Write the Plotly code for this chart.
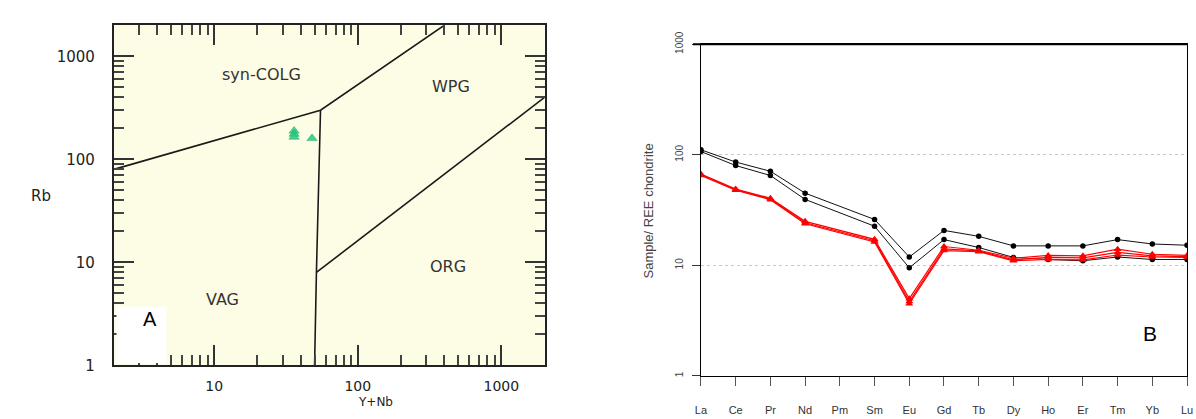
import math
import plotly.graph_objects as go

# ---------------- Panel A data (Pearce et al. Rb vs Y+Nb) ----------------
colg_x = [2, 55, 400]
colg_y = [80, 300, 2000]
vag_x = [50, 51.5, 55]
vag_y = [1, 8, 300]
org_x = [51.5, 2000]
org_y = [8, 400]
sample_ynb = [36, 36, 36, 48]
sample_rb = [189, 176, 165, 160]
xa_ticks = [10, 100, 1000]
ya_ticks = [1, 10, 100, 1000]

# ---------------- Panel B data (REE chondrite normalised) ----------------
ree = ["La", "Ce", "Pr", "Nd", "Pm", "Sm", "Eu", "Gd", "Tb", "Dy", "Ho", "Er", "Tm", "Yb", "Lu"]
black1 = [111, 86, 71, 45, None, 26, 11.9, 20.7, 18.3, 15.0, 15.0, 15.0, 17.1, 15.6, 15.2]
black2 = [107, 80, 65, 39.5, None, 22.6, 9.5, 17.1, 14.5, 11.8, 11.3, 11.0, 11.9, 11.3, 11.3]
red1 = [67, 49, 40.5, 25, None, 17.2, 5.0, 14.8, 13.7, 11.6, 12.3, 12.2, 14.0, 12.6, 12.3]
red2 = [66, 48.3, 40, 24.3, None, 16.7, 4.7, 14.1, 13.5, 11.2, 11.8, 11.7, 13.1, 12.2, 12.0]
red3 = [65, 47.8, 39.3, 23.8, None, 16.3, 4.5, 13.6, 13.3, 11.0, 11.3, 11.2, 12.4, 11.9, 11.8]
yb_ticks = [1, 10, 100, 1000]

W, H = 1196, 419


def px(x, y):
    return x / W, 1 - y / H


fig = go.Figure()

line_style = dict(color="#1a1a1a", width=1.6)
fig.add_trace(go.Scatter(x=colg_x, y=colg_y, mode="lines", line=line_style, xaxis="x", yaxis="y", hoverinfo="skip"))
fig.add_trace(go.Scatter(x=vag_x, y=vag_y, mode="lines", line=line_style, xaxis="x", yaxis="y", hoverinfo="skip"))
fig.add_trace(go.Scatter(x=org_x, y=org_y, mode="lines", line=line_style, xaxis="x", yaxis="y", hoverinfo="skip"))
fig.add_trace(go.Scatter(x=sample_ynb, y=sample_rb, mode="markers",
                         marker=dict(symbol="triangle-up", size=9, color="rgba(40,200,130,0.85)",
                                     line=dict(width=0.5, color="rgba(20,170,100,0.9)")),
                         xaxis="x", yaxis="y"))

for ser in (black1, black2):
    fig.add_trace(go.Scatter(x=ree, y=ser, mode="lines+markers", connectgaps=True,
                             line=dict(color="#111", width=1),
                             marker=dict(symbol="circle", size=5.5, color="#000"),
                             xaxis="x2", yaxis="y2"))
for ser in (red1, red2, red3):
    fig.add_trace(go.Scatter(x=ree, y=ser, mode="lines+markers", connectgaps=True,
                             line=dict(color="#ff0000", width=1.2),
                             marker=dict(symbol="triangle-up", size=7, color="#ff0000"),
                             xaxis="x2", yaxis="y2"))

minor_vals_x = [m * 10 ** e for e in range(0, 4) for m in range(2, 10)]
minor_vals_y = [m * 10 ** e for e in range(0, 4) for m in range(2, 10)]

axA_common = dict(type="log", showline=True, linewidth=2, linecolor="#222", mirror="allticks",
                  ticks="inside", ticklen=20, tickwidth=2, tickcolor="#333", showgrid=False,
                  zeroline=False)

fig.update_layout(
    width=W, height=H, autosize=False, margin=dict(l=0, r=0, t=0, b=0),
    paper_bgcolor="white", plot_bgcolor="rgba(0,0,0,0)", showlegend=False,
    xaxis=dict(domain=[109 / W, 544 / W], anchor="y",
               range=[math.log10(2), math.log10(2000)], tickmode="array", tickvals=xa_ticks,
               ticktext=[str(v) for v in xa_ticks], ticklabelstandoff=7,
               tickfont=dict(family="DejaVu Sans", size=14, color="#222"),
               minor=dict(ticks="inside", ticklen=10, tickwidth=1.5, tickcolor="#444",
                          tickmode="array", tickvals=minor_vals_x),
               **axA_common),
    yaxis=dict(domain=[1 - 372 / H, 1 - 13 / H], anchor="x",
               range=[0, math.log10(2000)], tickmode="array", tickvals=ya_ticks,
               ticktext=[str(v) for v in ya_ticks], ticklabelstandoff=14,
               tickfont=dict(family="DejaVu Sans", size=15, color="#222"),
               minor=dict(ticks="inside", ticklen=10, tickwidth=1.5, tickcolor="#444",
                          tickmode="array", tickvals=minor_vals_y),
               **axA_common),
    xaxis2=dict(domain=[702 / W, 1193 / W], anchor="y2", type="category",
                categoryorder="array", categoryarray=ree, range=[0, 14],
                showline=True, linewidth=1, linecolor="#000", mirror=True,
                ticks="outside", ticklen=9, tickwidth=1, tickcolor="#555",
                showgrid=False, zeroline=False,
                tickfont=dict(family="Liberation Sans", size=11, color="#333"),
                ticklabelstandoff=15),
    yaxis2=dict(domain=[1 - 383 / H, 1 - 33 / H], anchor="x2", type="log", range=[0, 3],
                tickmode="array", tickvals=yb_ticks, ticktext=[str(v) for v in yb_ticks],
                showline=True, linewidth=1, linecolor="#000", mirror=True,
                ticks="outside", ticklen=8, tickwidth=1, tickcolor="#333",
                tickangle=-90, tickfont=dict(family="Liberation Sans", size=10, color="#444"),
                showgrid=True, gridcolor="#c8c8c8", griddash="dot", gridwidth=1,
                zeroline=False, ticklabelstandoff=5),
)

fig.add_shape(type="rect", xref="x domain", yref="y domain", x0=0, x1=1, y0=0, y1=1,
              fillcolor="#FDFCE4", line=dict(width=0), layer="below")
fig.add_shape(type="rect", xref="x domain", yref="y domain", x0=0.006, x1=(162 - 109) / 435,
              y0=0.007, y1=(372 - 310) / 359, fillcolor="white", line=dict(width=0), layer="above")
fig.add_shape(type="line", xref="x2 domain", yref="y2 domain", x0=-8 / 491, x1=1, y0=1, y1=1,
              line=dict(color="#000", width=2))

def ann(text, x, y, size, color="#333", family="DejaVu Sans", **kw):
    xp, yp = px(x, y)
    fig.add_annotation(text=text, x=xp, y=yp, xref="paper", yref="paper", showarrow=False,
                       font=dict(family=family, size=size, color=color), **kw)

ann("syn-COLG", 216, 53, 16)
ann("WPG", 450, 65, 16)
ann("ORG", 446, 268, 16)
ann("VAG", 200, 315, 16)
ann("A", 136, 337, 20, color="#000", family="Liberation Sans")
ann("Rb", 23, 193, 15, color="#222")
ann("Y+Nb", 355, 419, 12, color="#222", yanchor="bottom", borderpad=0)
ann("B", 1165, 353, 21, color="#000", family="Liberation Sans")
ann("Sample/ REE chondrite", 649, 209, 13, color="#444", family="Liberation Sans", textangle=-90)

fig.write_html("out.html")
